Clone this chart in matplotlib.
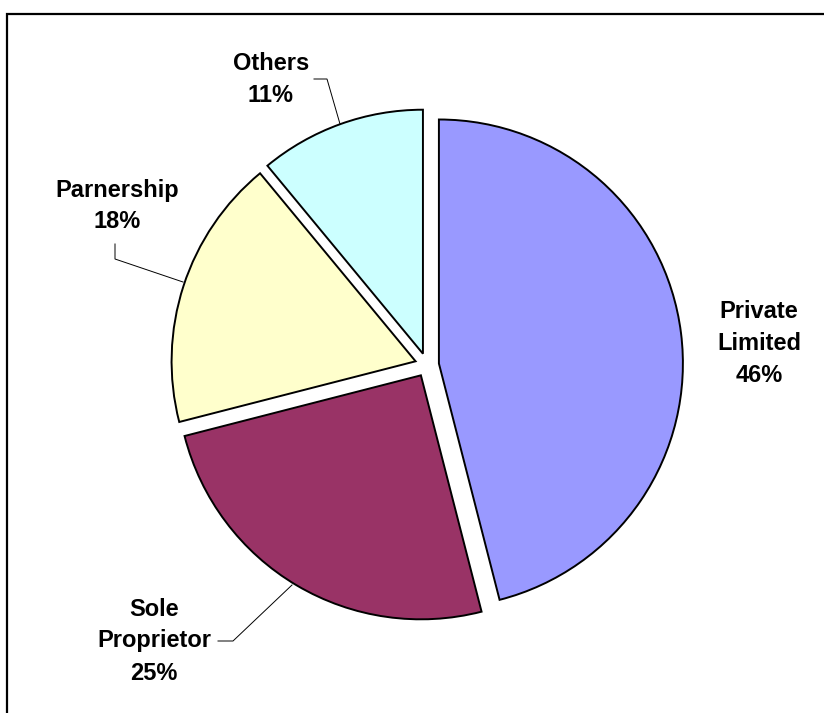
import matplotlib
matplotlib.use("Agg")
import matplotlib.pyplot as plt
from matplotlib.patches import Rectangle

# chart data
categories = ["Private\nLimited", "Sole\nProprietor", "Parnership", "Others"]
shares = [46, 25, 18, 11]
colors = ["#9999FF", "#993366", "#FFFFCC", "#CCFFFF"]

W, H = 824, 713

fig = plt.figure(figsize=(W / 100, H / 100), dpi=100)
ax = fig.add_axes([0, 0, 1, 1])

# outer chart border (right and bottom edges fall outside the picture)
ax.add_patch(Rectangle((7, -20), 860, H - 14 + 20, fill=False,
                       edgecolor="black", linewidth=1.6))

wedges, _ = ax.pie(shares, colors=colors, startangle=90, counterclock=False,
                   center=(427, H - 365), radius=244, explode=[12] * len(shares),
                   wedgeprops=dict(edgecolor="black", linewidth=1.4),
                   frame=True)
ax.set_xlim(0, W)
ax.set_ylim(0, H)
ax.set_aspect("equal")
ax.axis("off")

# label placement (pixel coords, y from top) and leader lines
label_pos = [(759, 343), (154, 641), (117, 206), (271, 79)]
leaders = [None,
           [(218, 641), (233, 641), (292, 585)],
           [(115, 244), (115, 259), (183, 282)],
           [(314, 79), (327, 79), (340, 124)]]

for name, val, (lx, ly), lead in zip(categories, shares, label_pos, leaders):
    ax.text(lx, H - ly, f"{name}\n{val}%", ha="center", va="center",
            fontsize=17, fontweight="bold", family="Liberation Sans",
            linespacing=1.5)
    if lead:
        xs = [p[0] for p in lead]
        ys = [H - p[1] for p in lead]
        ax.plot(xs, ys, color="black", linewidth=0.7)

fig.savefig("out.png", dpi=100)
